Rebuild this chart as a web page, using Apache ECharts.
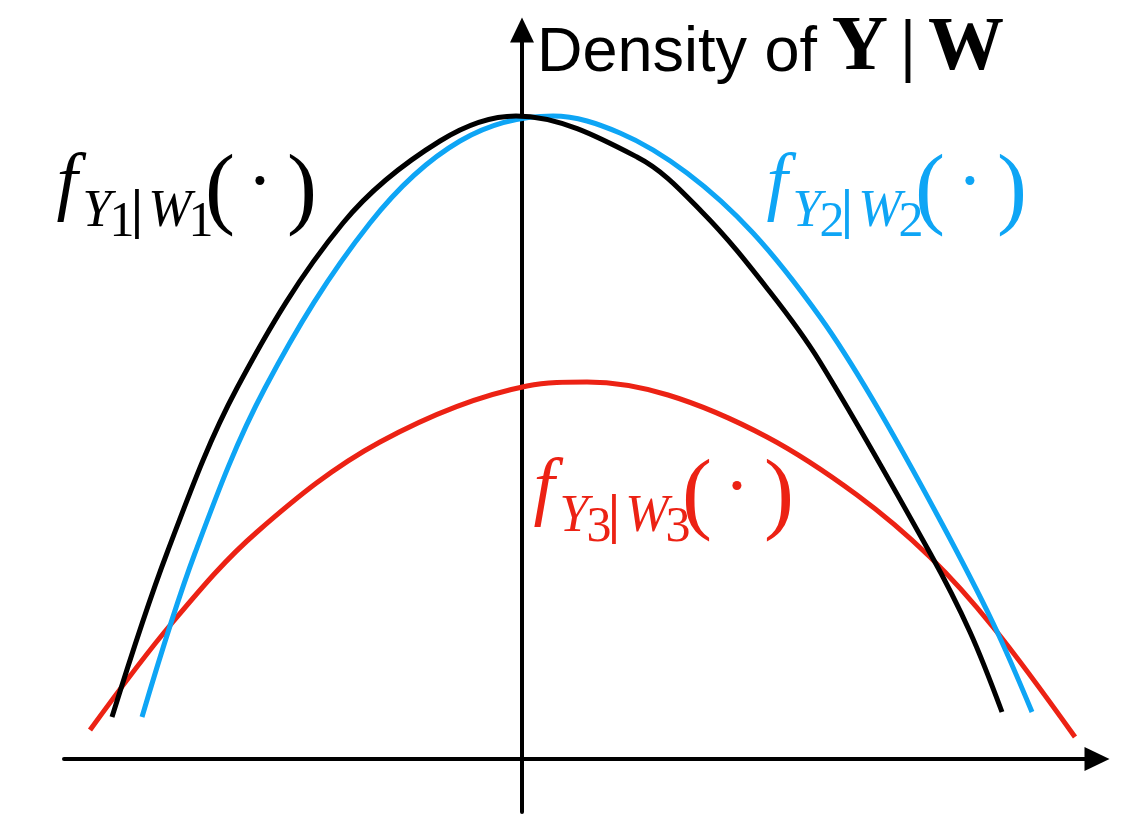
<!DOCTYPE html>
<html>
<head>
<meta charset="utf-8">
<title>Density of Y | W</title>
<script src="https://cdn.jsdelivr.net/npm/echarts@6/dist/echarts.min.js"></script>
<style>
  html, body { margin: 0; padding: 0; background: #fff; }
  #chart { width: 1137px; height: 816px; }
</style>
</head>
<body>
<div id="chart"></div>
<script>
// points, [x, density]
const curveY1W1 = [
  [-41.0, 4.2], [-35.5, 20.6], [-28.5, 37.1], [-17.9, 53.6], [-8.2, 61.8],
  [-0.6, 64.3], [11.5, 60.2], [18.1, 54.6], [24.8, 46.7],
  [29.8, 39.7], [40.8, 20.6], [44.8, 12.7], [48.0, 4.7]
]
const curveY2W2 = [
  [-38.0, 4.2], [-32.7, 20.6], [-25.7, 37.1], [-15.2, 53.6], [-6.2, 61.8],
  [3.1, 64.3], [9.8, 62.6], [16.5, 58.6], [23.1, 52.6], [29.8, 44.2],
  [35.1, 35.9], [41.8, 23.9], [47.1, 13.6], [51.0, 4.7]
]
const curveY3W3 = [
  [-43.2, 2.9], [-35.0, 13.6], [-26.5, 22.7], [-14.2, 31.7], [0.5, 37.3],
  [6.5, 37.7], [14.6, 36.4], [24.5, 32.2], [33.5, 26.4], [40.8, 20.2],
  [47.1, 13.2], [55.3, 2.2]
]
const seriesNames = ['f_{Y1|W1}', 'f_{Y2|W2}', 'f_{Y3|W3}']
const seriesColors = ['#000000', '#0ea5f5', '#ec2214']

const SERIF = "'Liberation Serif', 'DejaVu Serif', serif"
const SANS = "'Liberation Sans', Arial, sans-serif"

// one glyph run: text, centre x, baseline y, size, italic/bold
function glyph (text, cx, base, size, opts) {
  opts = opts || {}
  const family = opts.family || SERIF
  const style = (opts.italic ? 'italic ' : '') + (opts.bold ? 'bold ' : '')
  return {
    type: 'text',
    silent: true,
    style: {
      text: text,
      x: cx,
      y: base - 0.34 * size,
      align: opts.align || 'center',
      verticalAlign: 'middle',
      font: style + size + 'px ' + family,
      fill: opts.color || '#000'
    }
  }
}

// f_{Y_k|W_k}( . ) laid out relative to the black label
function densityLabel (k, dx, dy, color) {
  const o = { color: color }
  const it = { color: color, italic: true }
  return [
    glyph('f', 67 + dx, 212 + dy, 76, it),
    glyph('Y', 97 + dx, 230 + dy, 52, it),
    glyph(k, 122 + dx, 240 + dy, 50, o),
    glyph('|', 137 + dx, 231 + dy, 54, { color: color, bold: true }),
    glyph('W', 170 + dx, 230 + dy, 52, it),
    glyph(k, 201 + dx, 240 + dy, 50, o),
    glyph('(', 220 + dx, 224 + dy, 90, o),
    glyph('·', 260 + dx, 212 + dy, 76, o),
    glyph(')', 302 + dx, 224 + dy, 90, o)
  ]
}

const chart = echarts.init(document.getElementById('chart'))

const axisLine = {
  show: true,
  onZero: true,
  symbol: ['none', 'triangle'],
  symbolSize: [24, 25],
  lineStyle: { color: '#000', width: 4 }
}

chart.setOption({
  animation: false,
  backgroundColor: '#fff',
  grid: { left: 64, right: 40, top: 30, bottom: 4 },
  xAxis: {
    type: 'value',
    min: -45.8,
    max: 57.5,
    axisLine: axisLine,
    axisTick: { show: false },
    axisLabel: { show: false },
    splitLine: { show: false }
  },
  yAxis: {
    type: 'value',
    min: -5.3,
    max: 72.9,
    axisLine: axisLine,
    axisTick: { show: false },
    axisLabel: { show: false },
    splitLine: { show: false }
  },
  series: [curveY1W1, curveY2W2, curveY3W3].map((data, i) => ({
    name: seriesNames[i],
    type: 'line',
    data: data,
    smooth: 0.35,
    showSymbol: false,
    lineStyle: { color: seriesColors[i], width: 5, cap: 'butt' },
    z: 3 - i
  })),
  graphic: [
    glyph('Density of', 537, 75, 63, { family: SANS, align: 'left' }),
    glyph('Y', 860, 75, 78, { bold: true }),
    glyph('|', 908, 74, 70, { bold: true }),
    glyph('W', 966, 75, 76, { bold: true })
  ]
    .concat(densityLabel('1', 0, 0, seriesColors[0]))
    .concat(densityLabel('2', 710, 0, seriesColors[1]))
    .concat(densityLabel('3', 477, 305, seriesColors[2]))
})
</script>
</body>
</html>
